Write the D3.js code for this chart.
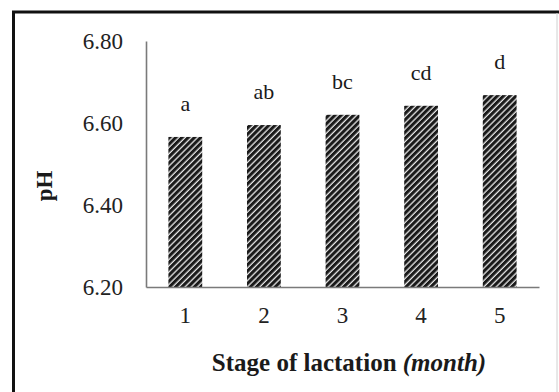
<!DOCTYPE html>
<html>
<head>
<meta charset="utf-8">
<script src="https://cdn.jsdelivr.net/npm/d3@7/dist/d3.min.js"></script>
<style>
  html, body { margin: 0; padding: 0; background: #fff; }
  svg { display: block; }
</style>
</head>
<body>
<svg id="chart" width="559" height="392"></svg>
<script>
// pH of milk by stage of lactation, with significance letters
const stages = ["1", "2", "3", "4", "5"];
const phValues = [6.566, 6.595, 6.62, 6.642, 6.668];
const sigLetters = ["a", "ab", "bc", "cd", "d"];
const yTicks = [6.2, 6.4, 6.6, 6.8];

const SERIF = "'Liberation Serif', 'Times New Roman', 'DejaVu Serif', serif";
const svg = d3.select("#chart");
const W = 559, H = 392;
const plot = { left: 146, right: 539, top: 41, bottom: 287 };

// outer frame (top and left edges dark, right edge faint)
svg.append("line").attr("x1", 12).attr("x2", 559).attr("y1", 12).attr("y2", 12)
  .attr("stroke", "#111").attr("stroke-width", 3);
svg.append("line").attr("x1", 13.5).attr("x2", 13.5).attr("y1", 11).attr("y2", H)
  .attr("stroke", "#111").attr("stroke-width", 3);
svg.append("line").attr("x1", 557).attr("x2", 557).attr("y1", 13).attr("y2", H)
  .attr("stroke", "#d0d0d0").attr("stroke-width", 1);

// diagonal hatch fill for the bars
const defs = svg.append("defs");
const pat = defs.append("pattern")
  .attr("id", "hatch")
  .attr("patternUnits", "userSpaceOnUse")
  .attr("width", 4.4).attr("height", 4.4)
  .attr("patternTransform", "rotate(45)");
pat.append("rect").attr("width", 4.4).attr("height", 4.4).attr("fill", "#e8e8e8");
pat.append("rect").attr("x", 0).attr("width", 3.1).attr("height", 4.4).attr("fill", "#1a1a1a");

const x = d3.scaleBand()
  .domain(stages)
  .range([plot.left, plot.right])
  .paddingInner(0.57)
  .paddingOuter(0.285);

const y = d3.scaleLinear()
  .domain([6.2, 6.8])
  .range([plot.bottom, plot.top]);

// bars
svg.append("g").selectAll("rect")
  .data(stages)
  .join("rect")
  .attr("x", d => x(d))
  .attr("width", x.bandwidth())
  .attr("y", (d, i) => y(phValues[i]))
  .attr("height", (d, i) => y(6.2) - y(phValues[i]))
  .attr("fill", "url(#hatch)");

// significance letters above bars
svg.append("g").selectAll("text")
  .data(stages)
  .join("text")
  .attr("x", d => x(d) + x.bandwidth() / 2)
  .attr("y", (d, i) => y(phValues[i]) - 26)
  .attr("text-anchor", "middle")
  .style("font-family", SERIF)
  .style("font-size", "22px")
  .style("fill", "#1a1a1a")
  .text((d, i) => sigLetters[i]);

// y axis
const yAxis = d3.axisLeft(y)
  .tickValues(yTicks)
  .tickSize(0)
  .tickPadding(23)
  .tickFormat(d3.format(".2f"));
const gy = svg.append("g").attr("transform", `translate(${plot.left},0)`).call(yAxis);
gy.select(".domain").attr("stroke", "#7a7a7a").attr("stroke-width", 1.6);
gy.selectAll("text")
  .style("font-family", SERIF).style("font-size", "23px").style("fill", "#222");

// x axis
const xAxis = d3.axisBottom(x).tickSize(0).tickPadding(20);
const gx = svg.append("g").attr("transform", `translate(0,${plot.bottom})`).call(xAxis);
gx.select(".domain").attr("stroke", "#7a7a7a").attr("stroke-width", 1.6);
gx.selectAll("text")
  .style("font-family", SERIF).style("font-size", "23px").style("fill", "#222");

// axis titles
const xt = svg.append("text")
  .attr("x", 349).attr("y", 371)
  .attr("text-anchor", "middle")
  .style("font-family", SERIF)
  .style("font-size", "25px").style("font-weight", "bold").style("fill", "#1a1a1a");
xt.append("tspan").text("Stage of lactation ");
xt.append("tspan").style("font-style", "italic").text("(month)");

svg.append("text")
  .attr("transform", "translate(52,186) rotate(-90)")
  .attr("text-anchor", "middle")
  .style("font-family", SERIF)
  .style("font-size", "23px").style("font-weight", "bold").style("fill", "#1a1a1a")
  .text("pH");
</script>
</body>
</html>
